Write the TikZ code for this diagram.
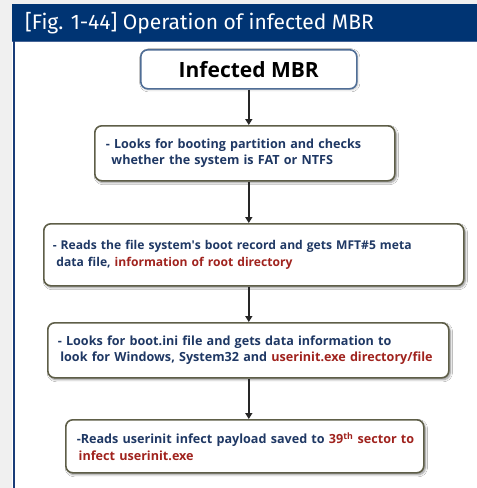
\documentclass[tikz,border=0pt]{standalone}
\usepackage{fontspec}
\setmainfont{Open Sans}
\newfontfamily\titlefont{Fira Sans}
\usetikzlibrary{shadows.blur,arrows.meta}

\definecolor{pagegray}{RGB}{240,240,240}
\definecolor{headblue}{RGB}{0,52,115}
\definecolor{headline}{RGB}{70,100,150}
\definecolor{frameblue}{RGB}{25,60,120}
\definecolor{txtblue}{RGB}{31,56,100}
\definecolor{txtred}{RGB}{160,35,30}
\definecolor{boxline}{RGB}{94,94,72}
\definecolor{mbrline}{RGB}{80,110,150}

\begin{document}
\begin{tikzpicture}[x=1pt,y=-1pt,
  softshadow/.style={blur shadow={shadow xshift=1.5pt,shadow yshift=-1.8pt,shadow blur steps=6,shadow opacity=45}},
  stepbox/.style={draw=boxline,line width=1.6pt,rounded corners=7pt,fill=white,softshadow,
    anchor=north west,align=left,inner ysep=0pt,text=txtblue,
    font=\bfseries\fontsize{12.6}{16.5}\selectfont},
  mbrbox/.style={draw=mbrline,line width=1.6pt,rounded corners=7pt,fill=white,
    blur shadow={shadow xshift=1pt,shadow yshift=-1pt,shadow blur steps=4,shadow opacity=25},
    anchor=north west,inner sep=0pt,minimum width=216pt,minimum height=39pt,
    font=\bfseries\fontsize{21}{24}\selectfont,text=black},
  arr/.style={line width=1.4pt,draw=black!85,-{Triangle[length=6pt,width=7pt]}}]

  % page, header band and frame
  \useasboundingbox (0,0) rectangle (477,488);
  \fill[pagegray] (0,0) rectangle (477,488);
  \fill[white] (12,41) rectangle (477,488);
  \fill[headblue] (12,4) rectangle (477,41);
  \draw[headline,line width=0.8pt] (12,41) -- (477,41);
  \fill[frameblue] (12.5,41) rectangle (15,488);
  \node[anchor=west,inner sep=0pt,text=white,
        font=\titlefont\fontsize{21}{24}\selectfont] (title) at (25,23)
        {[Fig. 1-44] Operation of infected MBR};

  % flow steps
  \node[mbrbox] (b1) at (140,49) {Infected MBR};

  \node[stepbox,text width=278pt,inner xsep=11pt,minimum height=55pt] (b2) at (94,125)
    {\mbox{- Looks for booting partition and checks}\\
     \mbox{\hspace{0.45em}whether the system is FAT or NTFS}};

  \node[stepbox,text width=402pt,inner xsep=9pt,minimum height=62pt,
        font=\bfseries\fontsize{12.1}{16.5}\selectfont] (b3) at (43,223)
    {\mbox{- Reads the file system\textquotesingle s boot record and gets MFT\#5 meta}\\
     \mbox{\hspace{0.3em}data file, {\color{txtred}information of root directory}}};

  \node[stepbox,text width=381pt,inner xsep=10pt,minimum height=55pt] (b4) at (47,322)
    {\mbox{- Looks for boot.ini file and gets data information to}\\
     \mbox{\hspace{0.2em}look for Windows, System32 and {\color{txtred}userinit.exe directory/file}}};

  \node[stepbox,text width=336pt,inner xsep=11pt,minimum height=53pt] (b5) at (65,419)
    {\mbox{-Reads userinit infect payload saved to {\color{txtred}39\textsuperscript{th} sector to}}\\
     \mbox{\hspace{0.15em}{\color{txtred}infect userinit.exe}}};

  % connectors
  \draw[arr] (b1.south) -- (b2.north -| b1.south);
  \draw[arr] (b2.south -| b1.south) -- (b3.north -| b1.south);
  \draw[arr] (b3.south -| b1.south) -- (b4.north -| b1.south);
  \draw[arr] (b4.south -| b1.south) -- (b5.north -| b1.south);
\end{tikzpicture}
\end{document}
